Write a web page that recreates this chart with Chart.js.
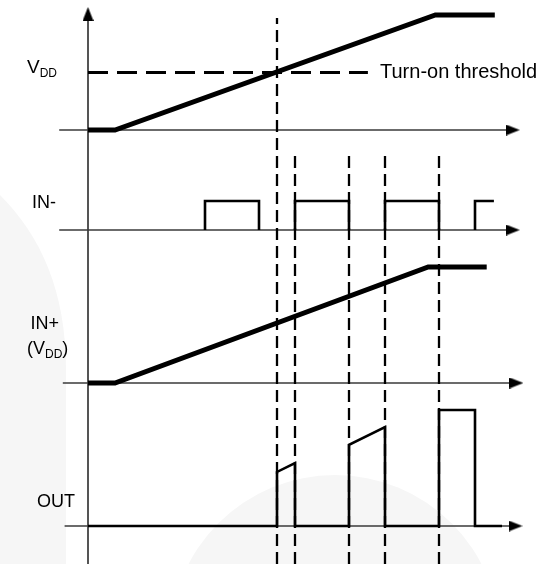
<!DOCTYPE html>
<html><head><meta charset="utf-8">
<script src="https://cdn.jsdelivr.net/npm/chart.js@4/dist/chart.umd.min.js"></script>
<style>html,body{margin:0;padding:0;background:#fff;}canvas{display:block;}</style>
</head><body>
<canvas id="c" width="545" height="564"></canvas>
<script>
// ---- data (time in event units, levels normalised 0..1) ----
const vddTime   = [0, 3, 38.6, 45.2];
const vddLevel  = [0, 0, 1, 1];
const threshold = 0.5;
const thresholdTime = [0, 31.1];
const inMinusTime  = [13,13,19,19,null,23,23,29,29,null,33,33,39,39,null,43,43,45.1];
const inMinusLevel = [0,1,1,0,null,0,1,1,0,null,0,1,1,0,null,0,1,1];
const inPlusTime  = [0, 3, 37.8, 44.3];
const inPlusLevel = [0, 0, 1, 1];
const outTime  = [0,21,21,23,23,29,29,33,33,39,39,43,43,46];
const outLevel = [0,0,0.466,0.543,0,0,0.70,0.853,0,0,1,1,0,0];
const eventTimes = [21, 23, 29, 33, 39];
const axisStart = [-3.2, -3.2, -2.8, -2.6];
const axisEnd   = [47.2, 47.2, 47.6, 47.5];
const rowIds = ['yV','yN','yP','yO'];

// ---- layout helpers ----
const W = 545, H = 564, X0 = 88, UNIT = 9;
function rowAxis(base, h){ return {type:'linear', display:false, min:(base-H)/h, max:base/h}; }
function pts(xs, ys){ return xs.map((x,i)=> x===null ? {x:NaN,y:null} : {x:x, y:ys[i]}); }

function arrowImg(dir){
  const c = document.createElement('canvas');
  const L = 14, B = 11;
  c.width = dir==='r' ? L : B; c.height = dir==='r' ? B : L;
  const g = c.getContext('2d'); g.fillStyle = '#000'; g.beginPath();
  if(dir==='r'){ g.moveTo(0,0); g.lineTo(L,B/2); g.lineTo(0,B); }
  else { g.moveTo(0,L); g.lineTo(B/2,0); g.lineTo(B,L); }
  g.closePath(); g.fill(); return c;
}
const arrR = arrowImg('r'), arrU = arrowImg('u');

const datasets = [];
const line = (data, yAxisID, color, width, dash, order) => ({
  type:'line', data, yAxisID, borderColor:color, borderWidth:width, borderDash:dash||[],
  pointRadius:0, fill:false, tension:0, spanGaps:false, order, borderCapStyle:'butt', borderJoinStyle:'miter'
});
// traces
datasets.push(line(pts(vddTime, vddLevel), 'yV', '#000', 5, null, 0));
datasets.push(line(pts(inMinusTime, inMinusLevel), 'yN', '#000', 2.6, null, 0));
datasets.push(line(pts(inPlusTime, inPlusLevel), 'yP', '#000', 5, null, 0));
datasets.push(line(pts(outTime, outLevel), 'yO', '#000', 2.6, null, 0));
// threshold
datasets.push(line(thresholdTime.map(t=>({x:t,y:threshold})), 'yV', '#000', 3, [20,9], 1));
// event dashed verticals (frame axis, fraction of height from bottom)
eventTimes.forEach((t,i)=>{
  const top = i===0 ? 1-18/H : 1-155/H;
  datasets.push(line([{x:t,y:0},{x:t,y:top}], 'yF', '#000', 2.3, [12,6], 1));
});
// axes
rowIds.forEach((id,i)=>{
  datasets.push(line([{x:axisStart[i],y:0},{x:axisEnd[i],y:0}], id, '#3a3a3a', 1.6, null, 3));
  datasets.push({type:'scatter', data:[{x:axisEnd[i], y:0}], yAxisID:id, pointStyle:arrR, pointRadius:7, order:2});
});
datasets.push(line([{x:0,y:0},{x:0,y:1-14/H}], 'yF', '#555', 2, null, 3));
datasets.push({type:'scatter', data:[{x:0, y:1-14/H}], yAxisID:'yF', pointStyle:arrU, pointRadius:7, order:2});

const bgPlugin = {
  id:'bg',
  beforeDraw(chart){
    const ctx = chart.ctx; ctx.save();
    ctx.fillStyle = '#f6f6f6';
    ctx.beginPath(); ctx.moveTo(0,H); ctx.lineTo(0,195);
    ctx.bezierCurveTo(40,235, 66,290, 66,370); ctx.lineTo(66,H); ctx.closePath(); ctx.fill();
    ctx.beginPath(); ctx.arc(335,640,165,0,Math.PI*2); ctx.fill();
    ctx.restore();
  }
};

const FONT = '"Liberation Sans", Arial, sans-serif';
function sub(ctx, x, y, main, subs, size){
  ctx.font = size+'px '+FONT;
  const w1 = ctx.measureText(main).width;
  ctx.textAlign='left'; ctx.textBaseline='alphabetic';
  ctx.fillText(main, x, y);
  ctx.font = Math.round(size*0.65)+'px '+FONT;
  const w2 = ctx.measureText(subs).width;
  ctx.fillText(subs, x + w1, y + size*0.2);
  return x + w1 + w2;
}
const textPlugin = {
  id:'labels',
  afterDraw(chart){
    const ctx = chart.ctx, s = chart.scales; ctx.save(); ctx.fillStyle='#000';
    const FS = 18;
    sub(ctx, 27, 73, 'V', 'DD', 19);
    ctx.font = '20px '+FONT; ctx.textBaseline='middle'; ctx.textAlign='left';
    ctx.fillText('Turn-on threshold', 380, s.yV.getPixelForValue(threshold));
    ctx.font = FS+'px '+FONT;
    ctx.fillText('IN-', 32, 203);
    ctx.textAlign='right';
    ctx.fillText('IN+', 59, 324);
    ctx.textBaseline='alphabetic'; ctx.textAlign='left';
    const wP = ctx.measureText('(').width;
    let x = 27; ctx.fillText('(', x, 354); x += wP;
    x = sub(ctx, x, 354, 'V', 'DD', FS);
    ctx.font = FS+'px '+FONT; ctx.fillText(')', x, 354);
    ctx.textBaseline='middle'; ctx.textAlign='left';
    ctx.fillText('OUT', 37, 502);
    ctx.restore();
  }
};

new Chart(document.getElementById('c'), {
  data:{datasets},
  options:{
    responsive:false, animation:false, events:[],
    layout:{padding:0, autoPadding:false},
    plugins:{legend:{display:false}, tooltip:{enabled:false}},
    scales:{
      x:{type:'linear', display:false, min:-X0/UNIT, max:(W-X0)/UNIT},
      yV: rowAxis(130,115),
      yN: rowAxis(230,29),
      yP: rowAxis(383,116),
      yO: rowAxis(526,116),
      yF: {type:'linear', display:false, min:0, max:1}
    }
  },
  plugins:[bgPlugin, textPlugin]
});
</script>
</body></html>
